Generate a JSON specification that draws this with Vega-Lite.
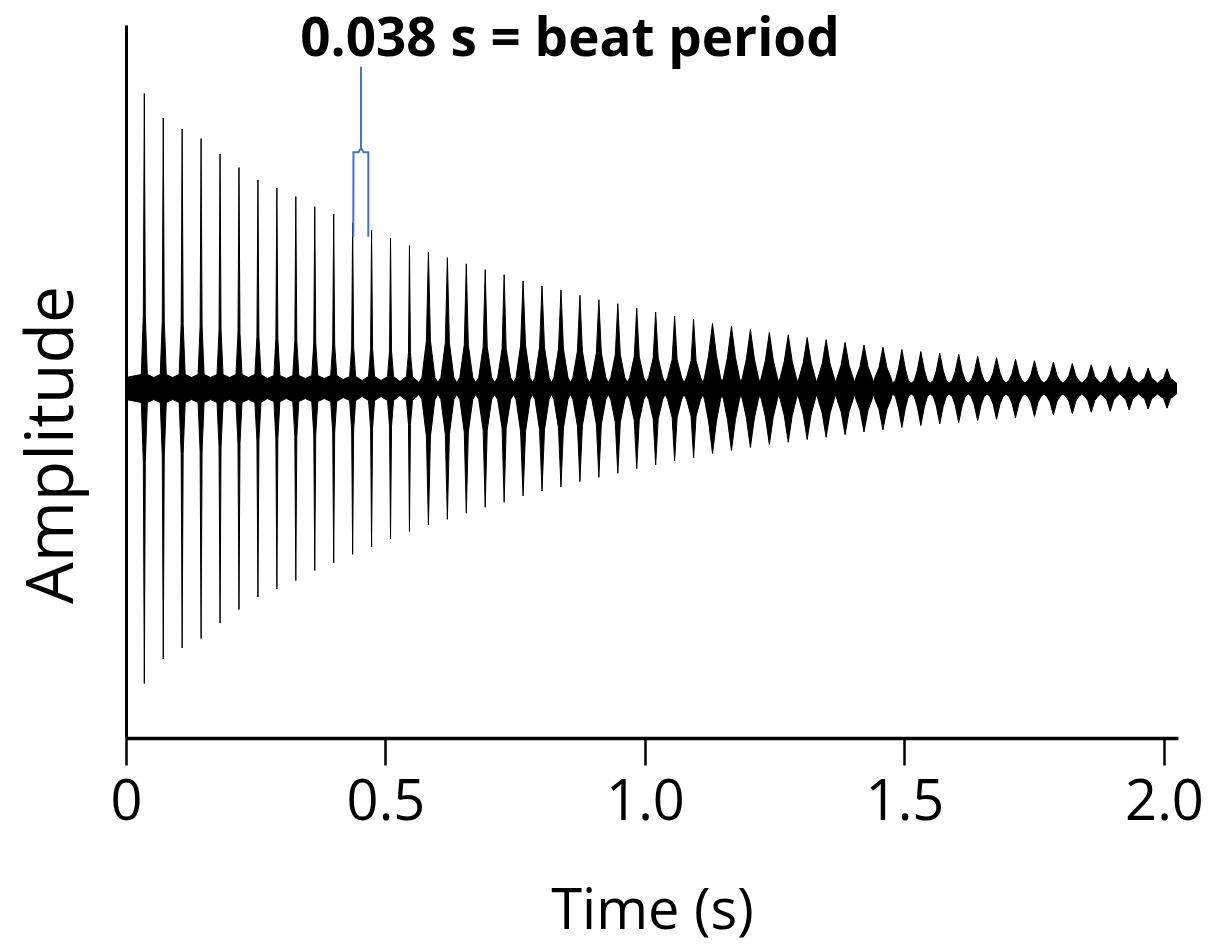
{
  "$schema": "https://vega.github.io/schema/vega-lite/v6.json",
  "width": 1052,
  "height": 713,
  "autosize": {"type": "none"},
  "padding": {"left": 126, "top": 25, "right": 31, "bottom": 206},
  "background": "white",
  "config": {"view": {"stroke": null}, "font": "Open Sans"},
  "datasets": {
    "wave": [
      {"t":0,"a":11},
      {"t":0.0295,"a":14},{"t":0.0334,"a":73.8},{"t":0.0353,"a":295},{"t":0.0372,"a":73.8},{"t":0.0411,"a":14},{"t":0.0535,"a":11},
      {"t":0.066,"a":14},{"t":0.0699,"a":67.6},{"t":0.0718,"a":270.5},{"t":0.0737,"a":67.6},{"t":0.0776,"a":14},{"t":0.09,"a":11},
      {"t":0.1024,"a":14},{"t":0.1063,"a":64.9},{"t":0.1082,"a":259.5},{"t":0.1101,"a":64.9},{"t":0.114,"a":14},{"t":0.1264,"a":11},
      {"t":0.1389,"a":14},{"t":0.1428,"a":62.5},{"t":0.1447,"a":250},{"t":0.1466,"a":62.5},{"t":0.1505,"a":14},{"t":0.1629,"a":11},
      {"t":0.1754,"a":14},{"t":0.1793,"a":58.7},{"t":0.1812,"a":234.6},{"t":0.1831,"a":58.7},{"t":0.187,"a":14},{"t":0.1994,"a":11},
      {"t":0.2119,"a":14},{"t":0.2158,"a":55.3},{"t":0.2177,"a":221},{"t":0.2196,"a":55.3},{"t":0.2235,"a":14},{"t":0.2359,"a":11},
      {"t":0.2484,"a":14},{"t":0.2523,"a":52.2},{"t":0.2542,"a":208.6},{"t":0.2561,"a":52.2},{"t":0.26,"a":14},{"t":0.2724,"a":10},
      {"t":0.2849,"a":13},{"t":0.2888,"a":50.1},{"t":0.2907,"a":200.5},{"t":0.2926,"a":50.1},{"t":0.2965,"a":13},{"t":0.3089,"a":10},
      {"t":0.3214,"a":13},{"t":0.3253,"a":48},{"t":0.3272,"a":192},{"t":0.3291,"a":48},{"t":0.333,"a":13},{"t":0.3454,"a":10},
      {"t":0.3579,"a":13},{"t":0.3618,"a":45.5},{"t":0.3637,"a":182},{"t":0.3656,"a":45.5},{"t":0.3695,"a":13},{"t":0.3819,"a":10},
      {"t":0.3944,"a":13},{"t":0.3983,"a":43.6},{"t":0.4002,"a":174.3},{"t":0.4021,"a":43.6},{"t":0.406,"a":13},{"t":0.4184,"a":9},
      {"t":0.4309,"a":12},{"t":0.4348,"a":41.5},{"t":0.4367,"a":165.8},{"t":0.4386,"a":41.5},{"t":0.4425,"a":12},{"t":0.4549,"a":8},
      {"t":0.4674,"a":12},{"t":0.4713,"a":39.6},{"t":0.4732,"a":158.3},{"t":0.4751,"a":39.6},{"t":0.479,"a":12},{"t":0.4914,"a":8},
      {"t":0.5039,"a":12},{"t":0.5078,"a":37.6},{"t":0.5097,"a":150.5},{"t":0.5116,"a":37.6},{"t":0.5155,"a":12},{"t":0.5279,"a":7},
      {"t":0.5404,"a":12},{"t":0.5443,"a":35.8},{"t":0.5462,"a":143},{"t":0.5481,"a":35.8},{"t":0.552,"a":12},{"t":0.5644,"a":6},
      {"t":0.5702,"a":11},{"t":0.5788,"a":47.8},{"t":0.5827,"a":136.5},{"t":0.5866,"a":47.8},{"t":0.5952,"a":11},{"t":0.6009,"a":6},
      {"t":0.6067,"a":11},{"t":0.6153,"a":45.8},{"t":0.6192,"a":130.8},{"t":0.6231,"a":45.8},{"t":0.6317,"a":11},{"t":0.6374,"a":6},
      {"t":0.6432,"a":11},{"t":0.6518,"a":43.6},{"t":0.6557,"a":124.7},{"t":0.6596,"a":43.6},{"t":0.6682,"a":11},{"t":0.6739,"a":6},
      {"t":0.6796,"a":11},{"t":0.6882,"a":41.6},{"t":0.6921,"a":118.8},{"t":0.696,"a":41.6},{"t":0.7046,"a":11},{"t":0.7103,"a":6},
      {"t":0.7161,"a":11},{"t":0.7247,"a":39.8},{"t":0.7286,"a":113.8},{"t":0.7325,"a":39.8},{"t":0.7411,"a":11},{"t":0.7468,"a":6},
      {"t":0.7516,"a":11},{"t":0.7603,"a":43},{"t":0.7651,"a":107.5},{"t":0.7699,"a":43},{"t":0.7786,"a":11},{"t":0.7833,"a":6},
      {"t":0.7881,"a":11},{"t":0.7968,"a":41},{"t":0.8016,"a":102.5},{"t":0.8064,"a":41},{"t":0.8151,"a":11},{"t":0.8198,"a":6},
      {"t":0.8246,"a":11},{"t":0.8333,"a":39.4},{"t":0.8381,"a":98.5},{"t":0.8429,"a":39.4},{"t":0.8516,"a":11},{"t":0.8563,"a":6},
      {"t":0.8611,"a":11},{"t":0.8698,"a":37.3},{"t":0.8746,"a":93.2},{"t":0.8794,"a":37.3},{"t":0.8881,"a":11},{"t":0.8928,"a":6},
      {"t":0.8976,"a":11},{"t":0.9063,"a":35.5},{"t":0.9111,"a":88.8},{"t":0.9159,"a":35.5},{"t":0.9246,"a":11},{"t":0.9293,"a":6},
      {"t":0.9341,"a":11},{"t":0.9428,"a":33.9},{"t":0.9476,"a":84.8},{"t":0.9524,"a":33.9},{"t":0.9611,"a":11},{"t":0.9658,"a":6},
      {"t":0.9706,"a":11},{"t":0.9793,"a":32.1},{"t":0.9841,"a":80.3},{"t":0.9889,"a":32.1},{"t":0.9976,"a":11},{"t":1.0023,"a":6},
      {"t":1.0071,"a":11},{"t":1.0158,"a":30.6},{"t":1.0206,"a":76.5},{"t":1.0254,"a":30.6},{"t":1.0341,"a":11},{"t":1.0388,"a":6},
      {"t":1.0436,"a":11},{"t":1.0523,"a":28.9},{"t":1.0571,"a":72.3},{"t":1.0619,"a":28.9},{"t":1.0706,"a":11},{"t":1.0753,"a":6},
      {"t":1.0801,"a":11},{"t":1.0888,"a":27.7},{"t":1.0936,"a":69.3},{"t":1.0984,"a":27.7},{"t":1.1071,"a":11},{"t":1.1118,"a":6},
      {"t":1.1147,"a":11},{"t":1.1224,"a":32.5},{"t":1.1301,"a":65},{"t":1.1378,"a":32.5},{"t":1.1455,"a":11},{"t":1.1483,"a":6},
      {"t":1.1512,"a":11},{"t":1.1589,"a":31},{"t":1.1666,"a":62.1},{"t":1.1743,"a":31},{"t":1.182,"a":11},{"t":1.1848,"a":6},
      {"t":1.1877,"a":11},{"t":1.1954,"a":29.5},{"t":1.2031,"a":59},{"t":1.2108,"a":29.5},{"t":1.2185,"a":11},{"t":1.2213,"a":6},
      {"t":1.2242,"a":11},{"t":1.2319,"a":28},{"t":1.2396,"a":56},{"t":1.2473,"a":28},{"t":1.255,"a":11},{"t":1.2578,"a":6},
      {"t":1.2606,"a":11},{"t":1.2683,"a":26.9},{"t":1.276,"a":53.7},{"t":1.2837,"a":26.9},{"t":1.2914,"a":11},{"t":1.2942,"a":6},
      {"t":1.2971,"a":11},{"t":1.3048,"a":25.5},{"t":1.3125,"a":51},{"t":1.3202,"a":25.5},{"t":1.3279,"a":11},{"t":1.3307,"a":6},
      {"t":1.3336,"a":11},{"t":1.3413,"a":24.4},{"t":1.349,"a":48.8},{"t":1.3567,"a":24.4},{"t":1.3644,"a":11},{"t":1.3672,"a":6},
      {"t":1.3701,"a":11},{"t":1.3778,"a":23.1},{"t":1.3855,"a":46.2},{"t":1.3932,"a":23.1},{"t":1.4009,"a":11},{"t":1.4037,"a":6},
      {"t":1.4066,"a":11},{"t":1.4143,"a":21.8},{"t":1.422,"a":43.5},{"t":1.4297,"a":21.8},{"t":1.4374,"a":11},{"t":1.4402,"a":6},
      {"t":1.4431,"a":11},{"t":1.4508,"a":20.7},{"t":1.4585,"a":41.3},{"t":1.4662,"a":20.7},{"t":1.4739,"a":11},{"t":1.4767,"a":5.5},
      {"t":1.4825,"a":8},{"t":1.4883,"a":19.5},{"t":1.495,"a":39},{"t":1.5017,"a":19.5},{"t":1.5075,"a":8},{"t":1.5132,"a":5.5},
      {"t":1.519,"a":8},{"t":1.5248,"a":18.5},{"t":1.5315,"a":37},{"t":1.5382,"a":18.5},{"t":1.544,"a":8},{"t":1.5497,"a":5.5},
      {"t":1.5555,"a":8},{"t":1.5613,"a":17.7},{"t":1.568,"a":35.3},{"t":1.5747,"a":17.7},{"t":1.5805,"a":8},{"t":1.5862,"a":5.5},
      {"t":1.592,"a":8},{"t":1.5978,"a":17},{"t":1.6045,"a":34.1},{"t":1.6112,"a":17},{"t":1.617,"a":8},{"t":1.6227,"a":5.5},
      {"t":1.6285,"a":8},{"t":1.6343,"a":16.1},{"t":1.641,"a":32.2},{"t":1.6477,"a":16.1},{"t":1.6535,"a":8},{"t":1.6592,"a":5.5},
      {"t":1.6649,"a":8},{"t":1.6707,"a":15.4},{"t":1.6774,"a":30.8},{"t":1.6841,"a":15.4},{"t":1.6899,"a":8},{"t":1.6956,"a":5.5},
      {"t":1.7014,"a":8},{"t":1.7072,"a":14.6},{"t":1.7139,"a":29.2},{"t":1.7206,"a":14.6},{"t":1.7264,"a":8},{"t":1.7321,"a":5.5},
      {"t":1.7379,"a":8},{"t":1.7437,"a":13.9},{"t":1.7504,"a":27.8},{"t":1.7571,"a":13.9},{"t":1.7629,"a":8},{"t":1.7686,"a":5.5},
      {"t":1.7744,"a":8},{"t":1.7802,"a":13.3},{"t":1.7869,"a":26.5},{"t":1.7936,"a":13.3},{"t":1.7994,"a":8},{"t":1.8051,"a":5.5},
      {"t":1.8109,"a":8},{"t":1.8167,"a":12.5},{"t":1.8234,"a":25},{"t":1.8301,"a":12.5},{"t":1.8359,"a":8},{"t":1.8416,"a":5.5},
      {"t":1.8474,"a":8},{"t":1.8532,"a":11.9},{"t":1.8599,"a":23.7},{"t":1.8666,"a":11.9},{"t":1.8724,"a":8},{"t":1.8781,"a":5.5},
      {"t":1.8839,"a":8},{"t":1.8897,"a":11.4},{"t":1.8964,"a":22.8},{"t":1.9031,"a":11.4},{"t":1.9089,"a":8},{"t":1.9146,"a":5.5},
      {"t":1.9204,"a":8},{"t":1.9262,"a":10.8},{"t":1.9329,"a":21.5},{"t":1.9396,"a":10.8},{"t":1.9454,"a":8},{"t":1.9511,"a":5.5},
      {"t":1.9569,"a":8},{"t":1.9627,"a":10.3},{"t":1.9694,"a":20.5},{"t":1.9761,"a":10.3},{"t":1.9819,"a":8},{"t":1.9876,"a":5.5},
      {"t":1.9934,"a":8},{"t":1.9992,"a":9.9},{"t":2.0059,"a":19.7},{"t":2.0126,"a":9.9},{"t":2.0184,"a":8},{"t":2.0241,"a":5.5}
    ],
    "bracket": [
      {"o":1,"t":0.438,"a":151.8},
      {"o":2,"t":0.4383,"a":236.2},
      {"o":3,"t":0.448,"a":236.2},
      {"o":4,"t":0.4528,"a":240.5},
      {"o":5,"t":0.4528,"a":321.8},
      {"o":6,"t":0.4528,"a":240.5},
      {"o":7,"t":0.4576,"a":236.2},
      {"o":8,"t":0.4669,"a":236.2},
      {"o":9,"t":0.4669,"a":151.8}
    ],
    "note": [
      {"label":"0.038 s = beat period","t":0.8555,"a":333}
    ]
  },
  "resolve": {"scale": {"y": "independent"}, "axis": {"y": "independent"}},
  "layer": [
    {
      "data": {"name": "wave"},
      "mark": {"type": "area", "color": "black", "stroke": "black", "strokeWidth": 1},
      "encoding": {
        "x": {
          "field": "t", "type": "quantitative",
          "scale": {"domain": [0, 2.027], "nice": false, "zero": false},
          "axis": {
            "title": "Time (s)",
            "values": [0, 0.5, 1, 1.5, 2],
            "labelExpr": "datum.value == 0 ? '0' : format(datum.value, '.1f')",
            "labelFlush": false,
            "grid": false,
            "domainColor": "black", "domainWidth": 3.5,
            "tickColor": "black", "tickWidth": 2.5, "tickSize": 27,
            "labelFontSize": 56, "labelColor": "black", "labelPadding": 10, "labelFont": "Open Sans",
            "titleFontSize": 56, "titleFontWeight": "normal", "titleColor": "black", "titleFont": "Open Sans",
            "titlePadding": 54
          }
        },
        "y": {
          "field": "a", "type": "quantitative",
          "scale": {"domain": [-349.5, 363.5], "nice": false, "zero": false},
          "axis": {
            "title": "Amplitude",
            "ticks": false, "labels": false, "grid": false,
            "domainColor": "black", "domainWidth": 3,
            "titleFontSize": 66, "titleFontWeight": "normal", "titleColor": "black", "titleFont": "Open Sans",
            "titleAngle": 270, "titleAlign": "center", "titleBaseline": "alphabetic",
            "titleX": -54, "titleY": 419.5
          }
        },
        "y2": {"datum": -4}
      }
    },
    {
      "data": {"name": "wave"},
      "mark": {"type": "area", "color": "black", "stroke": "black", "strokeWidth": 1},
      "encoding": {
        "x": {"field": "t", "type": "quantitative", "title": "Time (s)"},
        "y": {
          "field": "a", "type": "quantitative",
          "scale": {"domain": [-363.5, 349.5], "nice": false, "zero": false, "reverse": true},
          "axis": null
        },
        "y2": {"datum": -4}
      }
    },
    {
      "data": {"name": "bracket"},
      "mark": {"type": "line", "color": "#4472C4", "strokeWidth": 2},
      "encoding": {
        "x": {"field": "t", "type": "quantitative", "title": "Time (s)"},
        "y": {
          "field": "a", "type": "quantitative",
          "scale": {"domain": [-349.5, 363.5], "nice": false, "zero": false},
          "axis": null
        },
        "order": {"field": "o", "type": "quantitative"}
      }
    },
    {
      "data": {"name": "note"},
      "mark": {"type": "text", "font": "Open Sans", "fontSize": 53, "fontWeight": "bold", "align": "center", "baseline": "alphabetic", "color": "black"},
      "encoding": {
        "x": {"field": "t", "type": "quantitative", "title": "Time (s)"},
        "y": {
          "field": "a", "type": "quantitative",
          "scale": {"domain": [-349.5, 363.5], "nice": false, "zero": false},
          "axis": null
        },
        "text": {"field": "label"}
      }
    }
  ]
}
